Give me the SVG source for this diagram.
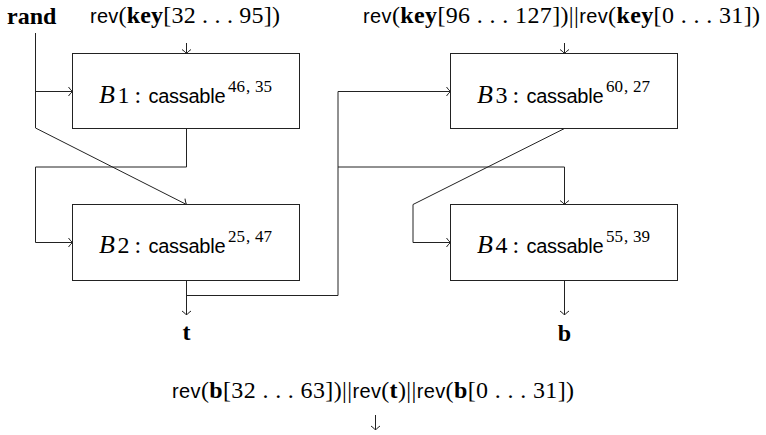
<svg xmlns="http://www.w3.org/2000/svg" width="766" height="435" viewBox="0 0 766 435">
<style>
.box{fill:#fff;stroke:#222;stroke-width:1}
.ln{fill:none;stroke:#222;stroke-width:1;marker-end:url(#ar)}
.pl{fill:none;stroke:#222;stroke-width:1}
.sf{font-family:"Liberation Sans",Arial,sans-serif;font-size:20px}
.rm{font-family:"Liberation Serif","Times New Roman",serif;font-size:24px}
.it{font-family:"Liberation Serif","Times New Roman",serif;font-style:italic;font-size:26px}
.bf{font-family:"Liberation Serif","Times New Roman",serif;font-weight:bold;font-size:24px}
.sup{font-family:"Liberation Serif","Times New Roman",serif;font-size:17px}
text{fill:#000}
</style>
<defs>
<marker id="ar" viewBox="-6 -6 8 12" refX="0" refY="0" markerWidth="8" markerHeight="12" markerUnits="userSpaceOnUse" orient="auto">
<path d="M-4,-4.5 Q-1.5,-1 0,0 Q-1.5,1 -4,4.5" fill="none" stroke="#222" stroke-width="1"/>
</marker>
</defs>
<rect width="766" height="435" fill="#fff"/>

<g id="connectors">
<path class="pl" d="M35.5,33 V128"/>
<path class="ln" d="M35.5,128 L186.5,204.5"/>
<path class="ln" d="M35.5,91.5 H72.5"/>
<path class="ln" d="M186.5,43 V53.5"/>
<path class="ln" d="M564.5,43 V53.5"/>
<path class="ln" d="M186.5,128.5 V167 H35.5 V242.5 H72.5"/>
<path class="ln" d="M186.5,280.5 V315"/>
<path class="ln" d="M186.5,295.5 H338 V91.5 H450.5"/>
<path class="ln" d="M338,167 H564.5 V204.5"/>
<path class="ln" d="M564.5,128.5 L413,204.5 V242.5 H450.5"/>
<path class="ln" d="M564.5,280.5 V315"/>
<path class="ln" d="M375.5,415 V430"/>
</g>

<g id="rand">
<text class="bf" x="7" y="24" font-size="27">rand</text>
</g>

<g id="key1">
<text x="90" y="23" textLength="190"><tspan class="sf">rev</tspan><tspan class="rm">(</tspan><tspan class="bf">key</tspan><tspan class="rm">[32 . . . 95])</tspan></text>
</g>

<g id="key2">
<text x="363" y="23" textLength="397"><tspan class="sf">rev</tspan><tspan class="rm">(</tspan><tspan class="bf">key</tspan><tspan class="rm">[96 . . . 127])||</tspan><tspan class="sf">rev</tspan><tspan class="rm">(</tspan><tspan class="bf">key</tspan><tspan class="rm">[0 . . . 31])</tspan></text>
</g>

<g id="B1">
<rect class="box" x="72.5" y="53.5" width="227" height="75"/>
<text y="102.7"><tspan class="it" x="99">B</tspan><tspan class="rm" x="117.5" font-size="26">1</tspan><tspan class="rm" x="134.5" font-size="26">:</tspan><tspan class="sf" x="148.5" textLength="77">cassable</tspan><tspan class="sup" x="228" y="91.7">46</tspan><tspan class="sup" x="246">,</tspan><tspan class="sup" x="255">35</tspan></text>
</g>

<g id="B2">
<rect class="box" x="72.5" y="204.5" width="227" height="76"/>
<text y="252.7"><tspan class="it" x="99">B</tspan><tspan class="rm" x="117.5" font-size="26">2</tspan><tspan class="rm" x="134.5" font-size="26">:</tspan><tspan class="sf" x="148.5" textLength="77">cassable</tspan><tspan class="sup" x="228" y="241.7">25</tspan><tspan class="sup" x="246">,</tspan><tspan class="sup" x="255">47</tspan></text>
</g>

<g id="B3">
<rect class="box" x="450.5" y="53.5" width="227" height="75"/>
<text y="102.7"><tspan class="it" x="477">B</tspan><tspan class="rm" x="495.5" font-size="26">3</tspan><tspan class="rm" x="512.5" font-size="26">:</tspan><tspan class="sf" x="526.5" textLength="77">cassable</tspan><tspan class="sup" x="606" y="91.7">60</tspan><tspan class="sup" x="624">,</tspan><tspan class="sup" x="633">27</tspan></text>
</g>

<g id="B4">
<rect class="box" x="450.5" y="204.5" width="227" height="76"/>
<text y="252.7"><tspan class="it" x="477">B</tspan><tspan class="rm" x="495.5" font-size="26">4</tspan><tspan class="rm" x="512.5" font-size="26">:</tspan><tspan class="sf" x="526.5" textLength="77">cassable</tspan><tspan class="sup" x="606" y="241.7">55</tspan><tspan class="sup" x="624">,</tspan><tspan class="sup" x="633">39</tspan></text>
</g>

<g id="t">
<text class="bf" x="186.5" y="340" text-anchor="middle">t</text>
</g>

<g id="b">
<text class="bf" x="564.5" y="341" text-anchor="middle">b</text>
</g>

<g id="output">
<text x="172" y="398" textLength="402"><tspan class="sf">rev</tspan><tspan class="rm">(</tspan><tspan class="bf">b</tspan><tspan class="rm">[32 . . . 63])||</tspan><tspan class="sf">rev</tspan><tspan class="rm">(</tspan><tspan class="bf">t</tspan><tspan class="rm">)||</tspan><tspan class="sf">rev</tspan><tspan class="rm">(</tspan><tspan class="bf">b</tspan><tspan class="rm">[0 . . . 31])</tspan></text>
</g>
</svg>
